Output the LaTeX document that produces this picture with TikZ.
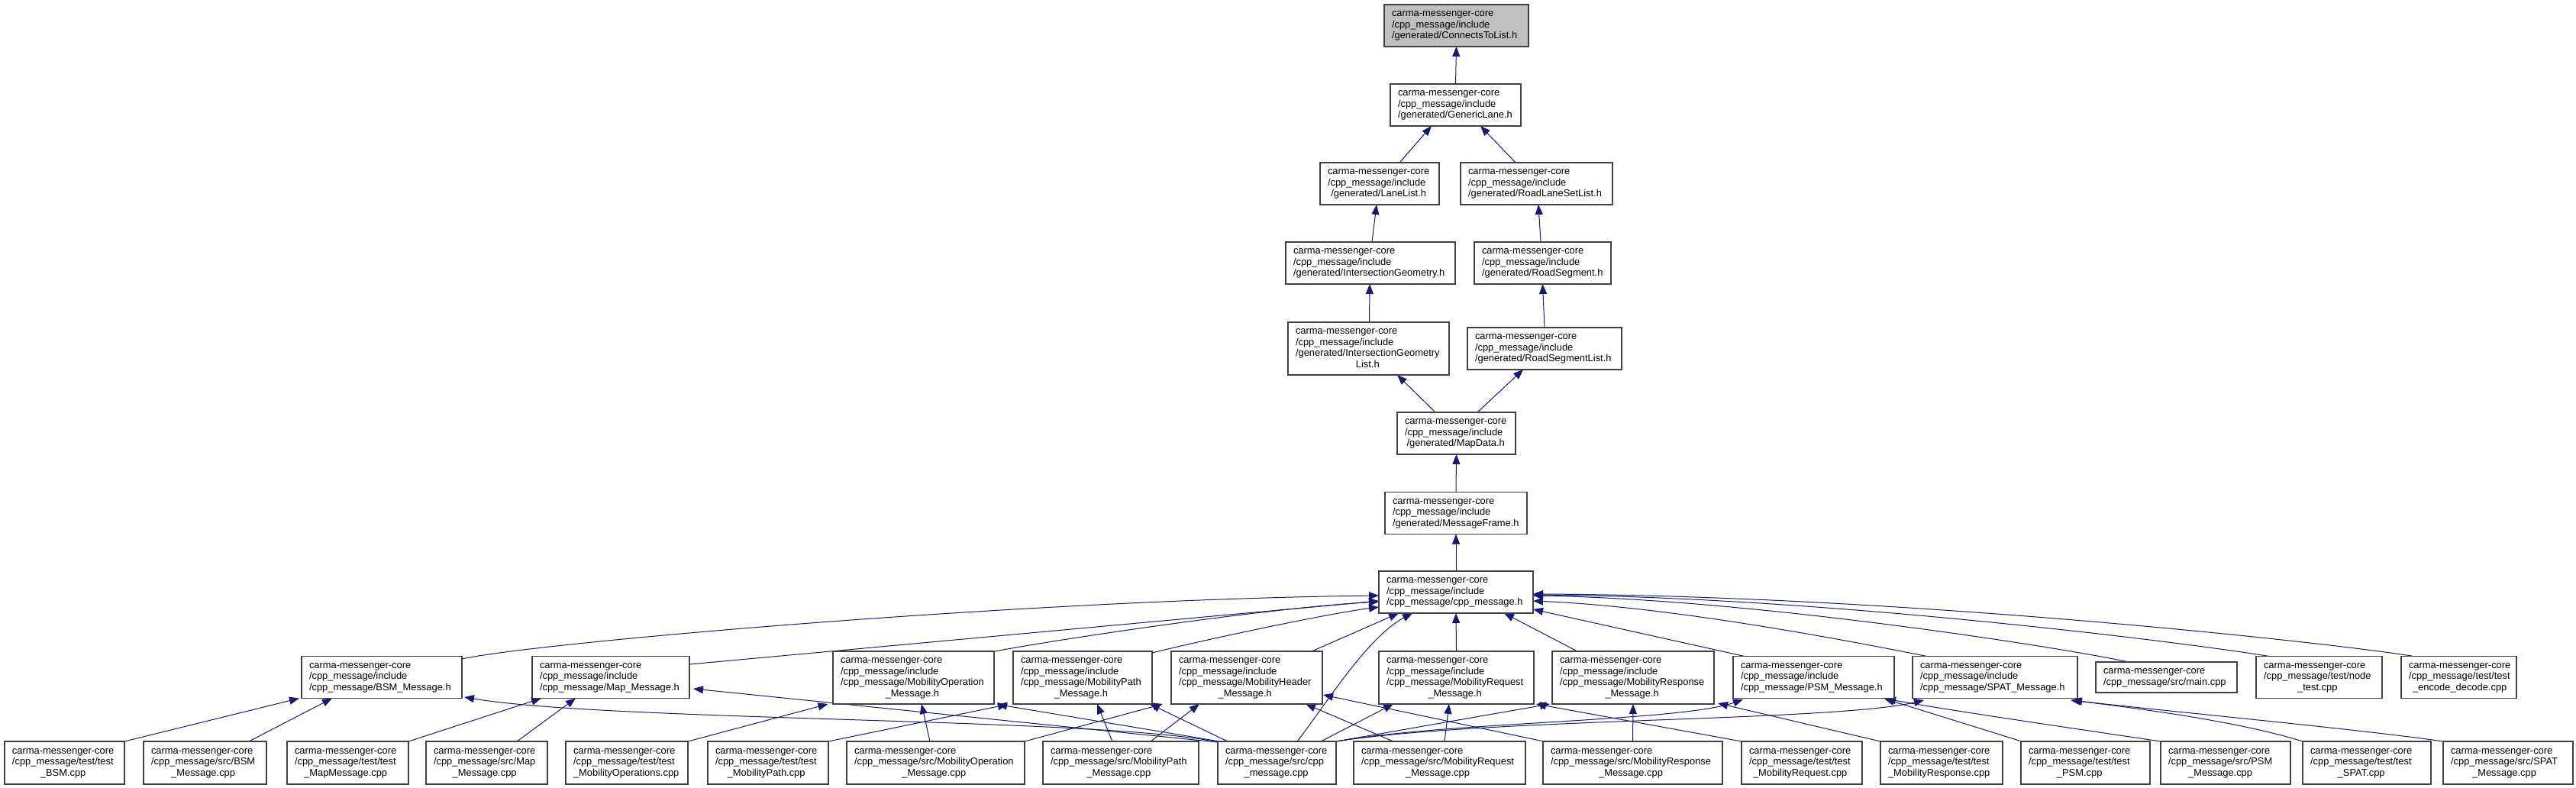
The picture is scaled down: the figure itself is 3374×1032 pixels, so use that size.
\documentclass[tikz,border=0pt]{standalone}
\usepackage{fontspec}
\newfontfamily\dfont{Liberation Sans}
\usetikzlibrary{arrows.meta,calc}
\definecolor{boxgray}{HTML}{404040}
\definecolor{edgeblue}{HTML}{191970}
\definecolor{rootfill}{HTML}{BFBFBF}
\newcommand{\boxtext}[2]{\begin{tabular}{@{}l@{}}#1\\\multicolumn{1}{@{}c@{}}{#2}\end{tabular}}
\newcommand{\mknode}[8][]{\node[box,minimum height=#6pt,#1] (#2) at (#3,#4) {\makebox[\dimexpr#5pt-20pt\relax][l]{\boxtext{#7}{#8}}};}
\pgfdeclarelayer{bg}
\pgfsetlayers{bg,main}
\tikzset{
  box/.style={draw=boxgray, line width=1.2pt, fill=white, inner xsep=10pt, inner ysep=0pt, outer sep=0pt,
    font=\dfont\fontsize{12.9}{14.5}\selectfont, text=black},
  edge/.style={draw=edgeblue, line width=1pt, -{Triangle[length=13pt,width=10pt]}},
}
\begin{document}
\begin{tikzpicture}[x=1pt,y=-1pt]
\useasboundingbox (0,0) rectangle (3374,1032);
% ---------- top chain ----------
\mknode[fill=rootfill]{cTL}{1907.5}{33.5}{189}{55}{carma-messenger-core\\/cpp\_message/include}{/generated/ConnectsToList.h}
\mknode{gLane}{1906.5}{137.5}{171}{55}{carma-messenger-core\\/cpp\_message/include}{/generated/GenericLane.h}
\mknode{laneList}{1807}{240.5}{156}{55}{carma-messenger-core\\/cpp\_message/include}{/generated/LaneList.h}
\mknode{rlsl}{2012.5}{240.5}{199}{55}{carma-messenger-core\\/cpp\_message/include}{/generated/RoadLaneSetList.h}
\mknode{ig}{1795}{344.5}{222}{55}{carma-messenger-core\\/cpp\_message/include}{/generated/IntersectionGeometry.h}
\mknode{rseg}{2020.5}{344.5}{179}{55}{carma-messenger-core\\/cpp\_message/include}{/generated/RoadSegment.h}
\mknode{igl}{1792.5}{456.5}{211}{69}{carma-messenger-core\\/cpp\_message/include\\/generated/IntersectionGeometry}{List.h}
\mknode{rsl}{2023}{456.5}{202}{55}{carma-messenger-core\\/cpp\_message/include}{/generated/RoadSegmentList.h}
\mknode{mapData}{1907.5}{567.5}{155}{55}{carma-messenger-core\\/cpp\_message/include}{/generated/MapData.h}
\mknode{msgFrame}{1907}{672}{186}{55}{carma-messenger-core\\/cpp\_message/include}{/generated/MessageFrame.h}
\mknode{cppH}{1907}{775.5}{202}{55}{carma-messenger-core\\/cpp\_message/include}{/cpp\_message/cpp\_message.h}
% ---------- middle row ----------
\mknode{bsmH}{500}{887}{210}{55}{carma-messenger-core\\/cpp\_message/include}{/cpp\_message/BSM\_Message.h}
\mknode{mapH}{800}{887}{206}{55}{carma-messenger-core\\/cpp\_message/include}{/cpp\_message/Map\_Message.h}
\mknode{mopH}{1196.5}{887.5}{211}{69}{carma-messenger-core\\/cpp\_message/include\\/cpp\_message/MobilityOperation}{\_Message.h}
\mknode{mpathH}{1418}{887.5}{182}{69}{carma-messenger-core\\/cpp\_message/include\\/cpp\_message/MobilityPath}{\_Message.h}
\mknode{mheadH}{1633}{887.5}{198}{69}{carma-messenger-core\\/cpp\_message/include\\/cpp\_message/MobilityHeader}{\_Message.h}
\mknode{mreqH}{1907.5}{887.5}{203}{69}{carma-messenger-core\\/cpp\_message/include\\/cpp\_message/MobilityRequest}{\_Message.h}
\mknode{mrespH}{2139}{887.5}{212}{69}{carma-messenger-core\\/cpp\_message/include\\/cpp\_message/MobilityResponse}{\_Message.h}
\mknode{psmH}{2375.5}{887}{211}{55}{carma-messenger-core\\/cpp\_message/include}{/cpp\_message/PSM\_Message.h}
\mknode{spatH}{2613}{887}{216}{55}{carma-messenger-core\\/cpp\_message/include}{/cpp\_message/SPAT\_Message.h}
\mknode{mainCpp}{2837.5}{887}{185}{40}{carma-messenger-core}{/cpp\_message/src/main.cpp}
\mknode{nodeTest}{3037.5}{887}{165}{55}{carma-messenger-core\\/cpp\_message/test/node}{\_test.cpp}
\mknode{encDec}{3220.5}{887}{151}{55}{carma-messenger-core\\/cpp\_message/test/test}{\_encode\_decode.cpp}
% ---------- bottom row ----------
\mknode{tBSM}{84.5}{999}{157}{56}{carma-messenger-core\\/cpp\_message/test/test}{\_BSM.cpp}
\mknode{sBSM}{268.5}{999}{161}{56}{carma-messenger-core\\/cpp\_message/src/BSM}{\_Message.cpp}
\mknode{tMap}{455.5}{999}{159}{56}{carma-messenger-core\\/cpp\_message/test/test}{\_MapMessage.cpp}
\mknode{sMap}{637.5}{999}{159}{56}{carma-messenger-core\\/cpp\_message/src/Map}{\_Message.cpp}
\mknode{tMop}{821}{999}{160}{56}{carma-messenger-core\\/cpp\_message/test/test}{\_MobilityOperations.cpp}
\mknode{tMpath}{1006}{999}{158}{56}{carma-messenger-core\\/cpp\_message/test/test}{\_MobilityPath.cpp}
\mknode{sMop}{1225.5}{999}{233}{56}{carma-messenger-core\\/cpp\_message/src/MobilityOperation}{\_Message.cpp}
\mknode{sMpath}{1468}{999}{204}{56}{carma-messenger-core\\/cpp\_message/src/MobilityPath}{\_Message.cpp}
\mknode{sCpp}{1672.5}{999}{155}{56}{carma-messenger-core\\/cpp\_message/src/cpp}{\_message.cpp}
\mknode{sMreq}{1885.5}{999}{225}{56}{carma-messenger-core\\/cpp\_message/src/MobilityRequest}{\_Message.cpp}
\mknode{sMresp}{2138.5}{999}{235}{56}{carma-messenger-core\\/cpp\_message/src/MobilityResponse}{\_Message.cpp}
\mknode{tMreq}{2360}{999}{158}{56}{carma-messenger-core\\/cpp\_message/test/test}{\_MobilityRequest.cpp}
\mknode{tMresp}{2543}{999}{160}{56}{carma-messenger-core\\/cpp\_message/test/test}{\_MobilityResponse.cpp}
\mknode{tPSM}{2731.5}{999}{169}{56}{carma-messenger-core\\/cpp\_message/test/test}{\_PSM.cpp}
\mknode{sPSM}{2915}{999}{170}{56}{carma-messenger-core\\/cpp\_message/src/PSM}{\_Message.cpp}
\mknode{tSPAT}{3100}{999}{168}{56}{carma-messenger-core\\/cpp\_message/test/test}{\_SPAT.cpp}
\mknode{sSPAT}{3285}{999}{170}{56}{carma-messenger-core\\/cpp\_message/src/SPAT}{\_Message.cpp}

\begin{pgfonlayer}{bg}
\fill[white] (0,0) rectangle (3374,1032);
% top chain
\draw[edge] (gLane.north) -- (cTL.south);
\draw[edge] ($(laneList)+(26,-27.5)$) -- ($(gLane)+(-31.5,27.5)$);
\draw[edge] ($(rlsl)+(-27.5,-27.5)$) -- ($(gLane)+(32.5,27.5)$);
\draw[edge] ($(ig)+(2,-27.5)$) -- ($(laneList)+(-4,27.5)$);
\draw[edge] ($(rseg)+(-2.5,-27.5)$) -- ($(rlsl)+(2.5,27.5)$);
\draw[edge] ($(igl)+(1,-34.5)$) -- ($(ig)+(-1,27.5)$);
\draw[edge] (rsl.north) -- (rseg.south);
\draw[edge] ($(mapData)+(-27.5,-27.5)$) -- ($(igl)+(37.5,34.5)$);
\draw[edge] ($(mapData)+(27.5,-27.5)$) -- ($(rsl)+(-28,27.5)$);
\draw[edge] (msgFrame.north) -- (mapData.south);
\draw[edge] (cppH.north) -- (msgFrame.south);
% middle row to cpp_message.h
\draw[edge] ($(bsmH)+(105,-24)$) .. controls ($(bsmH)+(205,-46)$) and ($(cppH)+(-551,9.5)$) .. ($(cppH)+(-101,4.5)$);
\draw[edge] ($(mapH)+(103,-17)$) -- ($(cppH)+(-101,11.5)$);
\draw[edge] ($(mopH)+(106.5,-34.5)$) .. controls ($(mopH)+(173.5,-47.5)$) and ($(cppH)+(-257,21.5)$) .. ($(cppH)+(-101,12.5)$);
\draw[edge] ($(mpathH)+(91,-32.5)$) .. controls ($(mpathH)+(142,-45.5)$) and ($(cppH)+(-177,29.5)$) .. ($(cppH)+(-101,19.5)$);
\draw[edge] ($(mheadH)+(85,-34.5)$) -- ($(cppH)+(-75,27.5)$);
\draw[edge] (mreqH.north) -- (cppH.south);
\draw[edge] ($(mrespH)+(-73,-34.5)$) -- ($(cppH)+(63,27.5)$);
\draw[edge] ($(psmH)+(-90.5,-27.5)$) -- ($(cppH)+(101,22.5)$);
\draw[edge] ($(spatH)+(-89,-27.5)$) .. controls ($(spatH)+(-163,-42)$) and ($(cppH)+(293,19.5)$) .. ($(cppH)+(101,11.5)$);
\draw[edge] ($(mainCpp)+(-49.5,-20)$) .. controls ($(mainCpp)+(-137.5,-39)$) and ($(cppH)+(393,9.5)$) .. ($(cppH)+(101,4.5)$);
\draw[edge] ($(nodeTest)+(-65.5,-27.5)$) .. controls ($(nodeTest)+(-157.5,-43)$) and ($(cppH)+(493,6.5)$) .. ($(cppH)+(101,3.5)$);
\draw[edge] ($(encDec)+(-59.5,-27.5)$) .. controls ($(encDec)+(-150.5,-43)$) and ($(cppH)+(593,4.5)$) .. ($(cppH)+(101,2.5)$);
\draw[edge] ($(sCpp)+(26.5,-28)$) .. controls ($(sCpp)+(62.5,-74)$) and ($(cppH)+(-117,59.5)$) .. ($(cppH)+(-57,27.5)$);
% bottom row to middle row
\draw[edge] ($(tBSM)+(78.5,-28)$) -- ($(bsmH)+(-108,27.5)$);
\draw[edge] ($(sBSM)+(57.5,-28)$) -- ($(bsmH)+(-65,27.5)$);
\draw[edge] ($(tMap)+(79.5,-28)$) -- ($(mapH)+(-91,27.5)$);
\draw[edge] ($(sMap)+(39.5,-28)$) -- ($(mapH)+(-46,27.5)$);
\draw[edge] ($(tMop)+(80,-28)$) -- ($(mopH)+(-112,34.5)$);
\draw[edge] ($(tMpath)+(79,-28)$) -- ($(mpathH)+(-98,35)$);
\draw[edge] ($(sMop)+(-7.5,-28)$) -- ($(mopH)+(10.5,34.5)$);
\draw[edge] ($(sMop)+(116.5,-28)$) -- ($(mheadH)+(-110,34.5)$);
\draw[edge] ($(sMpath)+(-11,-28)$) -- ($(mpathH)+(19,34.5)$);
\draw[edge] ($(sMpath)+(39,-28)$) -- ($(mheadH)+(-62,34.5)$);
\draw[edge] ($(sCpp)+(-78,-27)$) .. controls ($(sCpp)+(-222.5,-59)$) and ($(bsmH)+(300,58)$) .. ($(bsmH)+(108,26)$);
\draw[edge] ($(sCpp)+(-78,-27)$) -- ($(mapH)+(108,15)$);
\draw[edge] ($(sCpp)+(-75,-28)$) -- ($(mopH)+(109.5,35)$);
\draw[edge] ($(sCpp)+(-64.5,-28)$) -- ($(mpathH)+(88,34.5)$);
\draw[edge] ($(sCpp)+(57.5,-28)$) -- ($(mreqH)+(-82.5,34.5)$);
\draw[edge] ($(sCpp)+(77.5,-28)$) -- ($(mrespH)+(-109,34.5)$);
\draw[edge] ($(sCpp)+(77.5,-28)$) .. controls ($(sCpp)+(227.5,-54)$) and ($(psmH)+(-175.5,58)$) .. ($(psmH)+(-92.5,29)$);
\draw[edge] ($(sCpp)+(77.5,-28)$) .. controls ($(sCpp)+(277.5,-59)$) and ($(spatH)+(-213,58)$) .. ($(spatH)+(-93,30)$);
\draw[edge] ($(sMreq)+(6.5,-28)$) -- ($(mreqH)+(-9.5,34.5)$);
\draw[edge] ($(sMreq)+(-60.5,-28)$) -- ($(mheadH)+(77,34.5)$);
\draw[edge] (sMresp.north) -- (mrespH.south);
\draw[edge] ($(sMresp)+(-116.5,-28)$) -- ($(mheadH)+(100,22.5)$);
\draw[edge] ($(tMreq)+(-79,-28)$) -- ($(mreqH)+(104.5,34.5)$);
\draw[edge] ($(tMresp)+(-80,-28)$) -- ($(mrespH)+(111,33.5)$);
\draw[edge] ($(tPSM)+(-83.5,-28)$) -- ($(psmH)+(92.5,28)$);
\draw[edge] ($(sPSM)+(-85,-28)$) .. controls ($(sPSM)+(-185,-43)$) and ($(psmH)+(174.5,43)$) .. ($(psmH)+(94.5,28)$);
\draw[edge] ($(tSPAT)+(-84,-28)$) .. controls ($(tSPAT)+(-164,-53)$) and ($(spatH)+(199,42)$) .. ($(spatH)+(99,30)$);
\draw[edge] ($(sSPAT)+(-85,-28)$) .. controls ($(sSPAT)+(-185,-43)$) and ($(spatH)+(201,42)$) .. ($(spatH)+(101,30)$);
\end{pgfonlayer}
\end{tikzpicture}
\end{document}
